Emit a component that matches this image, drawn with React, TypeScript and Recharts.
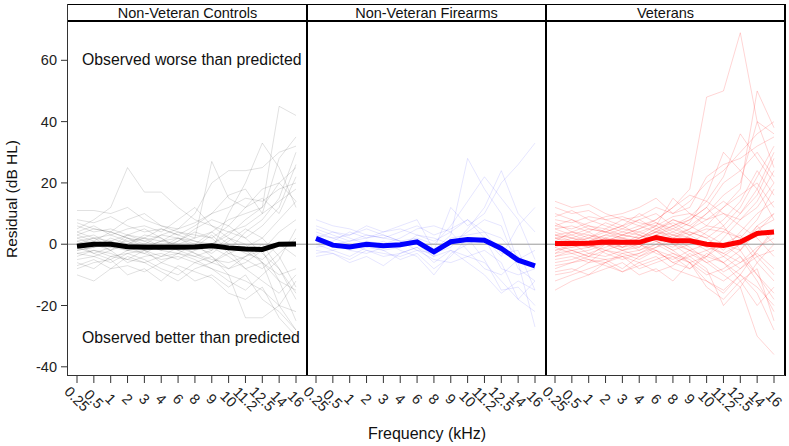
import { LineChart, Line, XAxis, YAxis, ReferenceLine } from "recharts";

const FREQS = ["0.25", "0.5", "1", "2", "3", "4", "6", "8", "9", "10", "11.2", "12.5", "14", "16"];
const Y_TICKS = [-40, -20, 0, 20, 40, 60];

// group means (thick lines)
const controlsMean = [-0.7, 0, 0, -0.8, -1, -1, -1, -0.9, -0.5, -1.2, -1.6, -1.7, 0, 0.1];
const firearmsMean = [1.9, -0.3, -0.9, 0, -0.5, -0.2, 0.8, -2.5, 0.8, 1.5, 1.3, -1.4, -5.2, -7.1];
const veteransMean = [0.2, 0.2, 0.3, 0.7, 0.6, 0.6, 2.2, 1.1, 1.1, 0, -0.4, 0.7, 3.5, 4];

// individual residual curves (a sample of the spaghetti)
const controlsLines = [
  [3, 5, 4, 2, 1, 3, 2, 0, 4, 8, 10, 12, 20, 25],
  [-4, -2, -3, -5, -6, -4, -3, -5, -8, -10, -12, -15, -20, -22],
  [11, 11, 10, 12, 8, 6, 5, 7, 10, 12, 15, 14, 18, 20],
  [5, 8, 12, 25, 17, 17, 12, 8, 6, 4, 6, 10, 14, 18],
  [-8, -6, -5, -10, -8, -12, -7, -9, -11, -16, -18, -14, -24, -30],
  [0, 2, 1, -1, 0, 3, 5, 10, 20, 24, 24, 25, 30, 32],
  [-2, -1, 0, 1, -2, -1, 0, 2, 27, 15, 12, 18, 20, 14],
  [6, 4, 5, 3, 2, 1, 4, 3, 2, -3, -5, -8, -3, 2],
  [-6, -8, -4, -3, -5, -8, -10, -6, -4, -10, -24, -24, -20, -12],
  [1, -1, 2, 0, 3, 2, -2, -4, -2, 10, 20, 33, 25, 12],
  [-3, -4, -2, -6, -4, -3, -5, -2, 0, 3, 8, 12, 45, 42],
  [4, 6, 3, 5, 6, 4, 8, 12, 6, 2, -2, -6, -12, -15],
  [-10, -12, -8, -7, -9, -6, -8, -12, -10, -14, -10, -18, -22, -28],
  [2, 3, 0, -2, -1, 1, 0, -3, -6, -2, 4, 8, 15, 30],
  [8, 7, 9, 6, 4, 5, 3, 1, -1, -4, -8, -6, -10, -8],
  [-1, 0, -2, 0, 2, -1, 1, 5, 8, 6, 2, -3, -8, -18],
  [0, -3, -5, -2, -3, -5, -4, -6, -8, -12, -15, -10, -5, 5],
  [3, 1, 4, 2, 0, -2, 1, 4, 2, 6, 12, 15, 10, 22],
  [-5, -4, -6, -3, -2, -4, -1, -3, -5, -6, -4, -2, -12, -25],
  [7, 5, 4, 8, 10, 6, 4, 2, 4, 0, -3, -5, 0, -4],
  [-2, -1, 1, -1, -3, 0, -2, -1, 3, -2, -8, -12, -16, -10],
  [1, 2, 3, 1, 2, 5, 3, 6, 10, 16, 18, 10, 28, 35],
  [-7, -5, -8, -4, -6, -9, -12, -8, -6, -3, -1, 2, -4, -14],
  [4, 2, -1, 3, 5, 2, -1, 0, -4, -8, -6, -2, 4, 8],
  [-3, -2, -4, -5, -2, -6, -3, 0, -2, 2, 0, -6, -20, -28],
  [0, 1, -2, 2, -1, 1, 2, -1, -3, 1, 5, 2, 8, 14],
  [-1, -3, -1, -2, 0, -2, -3, -4, -6, -8, -4, 0, -8, -16],
  [2, 0, 1, 3, 1, -1, 2, 1, 0, 4, 2, 6, 12, 26],
];

const firearmsLines = [
  [8, 6, 5, 3, 2, 4, 6, 3, 5, 8, 4, 2, -4, -8],
  [2, 0, -2, -3, -1, 0, 1, -2, 3, 28, 18, 10, -6, -27],
  [-4, -3, -5, -2, -4, -3, -1, -6, -2, -4, -6, -12, -18, -22],
  [5, 3, 1, 2, 4, 6, 8, -2, 12, 6, 10, 20, 26, 33],
  [0, -2, -4, -1, -2, -5, -3, -8, -4, 2, -5, -15, -14, -20],
  [3, 2, 3, 5, 3, 1, 2, 0, 6, 14, 22, 15, 8, -5],
  [-2, -3, -6, -4, -7, -3, -1, -4, -2, -6, -10, -16, -12, -15],
  [6, 4, 2, 0, -2, -1, 3, 2, 0, 4, 8, 6, -8, -12],
  [1, -1, -1, 1, 0, 2, 5, 6, 4, -2, -8, -10, -5, -2],
  [-1, 0, 1, 3, 2, 1, -2, -3, -1, 5, 12, 24, 10, 4],
  [4, 2, 0, -2, -3, -4, -2, -5, -6, -4, -2, -6, -18, -12],
  [0, 1, 4, 2, 3, 1, 0, -4, 2, 3, 4, -3, -2, -15],
  [-3, -2, 0, -1, 1, -2, -4, -10, -3, 0, 2, -8, -10, -8],
  [2, 4, 3, 6, 4, 5, 3, 1, 4, 8, 2, -4, 6, 12],
];

const veteransLines = [
  [0, 2, 1, 3, 2, 1, 4, 3, 2, -1, -3, 0, 5, 8],
  [-8, -6, -5, -7, -9, -6, -4, -8, -10, -12, -15, -10, -14, -20],
  [14, 12, 13, 10, 8, 9, 12, 10, 14, 20, 24, 30, 36, 40],
  [2, 0, -1, 1, 3, 5, 8, 12, 18, 48, 50, 69, 40, 25],
  [-3, -2, -4, 0, -2, -1, 3, 0, -4, -8, -20, -14, -30, -36],
  [5, 6, 4, 7, 5, 8, 10, 6, 8, 12, 20, 24, 30, 22],
  [-12, -10, -8, -6, -9, -7, -5, -3, -6, -10, -8, -4, -10, -16],
  [1, -1, 0, 2, 4, 3, 6, 15, 10, 6, 12, 18, 50, 38],
  [8, 7, 9, 8, 6, 10, 7, 4, 2, 0, -4, -8, -2, 5],
  [-5, -4, -6, -2, -3, -5, -2, -6, -8, -4, 2, 8, 12, 20],
  [3, 4, 2, 5, 8, 6, 4, 2, 5, 10, 14, 10, 18, 30],
  [-2, 0, -3, -1, 1, -2, 1, -1, 3, 5, 4, 2, -6, -12],
  [10, 8, 6, 4, 3, 2, 5, 8, 6, 3, 0, -2, 4, 10],
  [-15, -12, -10, -8, -6, -10, -8, -12, -6, -14, -18, -12, -8, -25],
  [0, 1, 3, 2, -1, 0, 2, 4, 7, 16, 30, 24, 18, 8],
  [4, 2, 0, -2, -4, -3, 0, 3, 1, -2, -6, -10, -16, -28],
  [6, 5, 7, 9, 10, 12, 15, 10, 12, 22, 26, 28, 32, 35],
  [-6, -5, -3, -4, -2, 0, -3, -5, -2, 0, -3, -6, -1, 2],
  [2, 3, 5, 4, 6, 3, 1, -2, 0, 4, 8, 14, 24, 16],
  [-1, -3, -2, 0, -1, 2, 5, 2, -1, -5, -9, -6, -3, -8],
  [12, 10, 11, 8, 9, 7, 6, 9, 10, 8, 12, 16, 20, 12],
  [-4, -2, -1, 1, 0, 3, 1, -2, -6, -12, -16, -10, -2, 4],
  [3, 1, 2, 1, 3, 5, 7, 5, 3, 6, 5, 2, 8, 18],
  [-9, -8, -10, -6, -4, -8, -6, -4, -8, -3, -6, -12, -20, -14],
  [1, 4, 6, 5, 3, 2, 4, 6, 9, 14, 22, 36, 28, 20],
  [-2, -1, 0, -3, -5, -3, -1, 2, 4, 2, -2, 4, 10, 14],
  [7, 4, 3, 1, 2, 0, -2, -4, -6, -4, 0, 3, -4, -10],
  [0, -2, -4, -2, 0, 2, 4, 8, 6, 10, 16, 20, 40, 36],
  [-3, 0, 2, 4, 2, 4, 6, 3, 5, 8, 10, 6, 2, -4],
  [5, 3, 1, 3, 5, 4, 2, 0, -2, -6, -10, -14, -6, 0],
  [-7, -6, -4, -5, -8, -4, -2, -6, -4, -2, 0, -4, -12, -22],
  [9, 11, 8, 6, 4, 6, 8, 12, 16, 14, 10, 8, 14, 24],
  [2, 1, -1, 0, -2, -4, -1, 1, -2, -4, -6, -2, 6, 0],
  [-1, 1, 0, 2, 1, -1, 3, 6, 3, 0, 4, 10, 16, 28],
  [-4, -3, -5, -6, -3, -2, 0, -3, -5, -9, -12, -8, -4, -2],
  [6, 8, 5, 4, 6, 8, 5, 7, 4, 2, 6, 12, 22, 32],
  [-10, -9, -6, -5, -4, -6, -9, -7, -3, -6, -4, 0, 6, 10],
  [3, 2, 4, 1, -1, 1, 3, 5, 8, 12, 6, -2, -10, -18],
];

const FONT = "'Liberation Sans', Arial, sans-serif";
const PANEL_W = 239;
const PLOT_TOP = 22;
const PLOT_H = 354;
const AXIS_H = 70;

function buildRows(lines: number[][], mean: number[]) {
  return FREQS.map((f, i) => {
    const row: Record<string, number | string> = { freq: f, mean: mean[i] };
    lines.forEach((l, j) => (row["s" + j] = l[i]));
    return row;
  });
}

function FreqTick(props: any) {
  const { x, y, payload } = props;
  return (
    <text
      transform={`translate(${x},${y + 14}) rotate(45)`}
      textAnchor="middle"
      dy="0.35em"
      fontSize={14.5}
      fill="#222"
      fontFamily={FONT}
    >
      {payload.value}
    </text>
  );
}

function Panel({ lines, mean, thin, thick, left, showY }: {
  lines: number[][]; mean: number[]; thin: string; thick: string; left: number; showY: boolean;
}) {
  const data = buildRows(lines, mean);
  const yw = showY ? 68 : 0;
  const pad = showY ? 0 : 12;
  return (
    <div style={{ position: "absolute", left: left - yw - pad, top: PLOT_TOP }}>
      <LineChart width={PANEL_W + yw + pad} height={PLOT_H + AXIS_H} data={data}
        margin={{ top: 0, right: 0, bottom: 0, left: pad }}>
        <XAxis dataKey="freq" interval={0} height={AXIS_H} tickSize={7} axisLine={false}
          tickLine={{ stroke: "#333" }} padding={{ left: 9, right: 11 }} tick={<FreqTick />} />
        <YAxis domain={[-43, 72.5]} ticks={Y_TICKS} allowDataOverflow hide={!showY} width={yw}
          axisLine={false} tickSize={7} tickMargin={4} tickLine={{ stroke: "#333" }}
          tick={{ fontSize: 14.5, fill: "#222", fontFamily: FONT }} />
        {lines.map((_, j) => (
          <Line key={j} dataKey={"s" + j} stroke={thin} strokeWidth={1} dot={false}
            activeDot={false} isAnimationActive={false} />
        ))}
        <ReferenceLine y={0} stroke="#9a9a9a" strokeWidth={1} />
        <Line dataKey="mean" stroke={thick} strokeWidth={5} dot={false}
          activeDot={false} isAnimationActive={false} />
      </LineChart>
    </div>
  );
}

const STRIPS = ["Non-Veteran Controls", "Non-Veteran Firearms", "Veterans"];

export default function App() {
  const x0 = 68;
  return (
    <div style={{ position: "absolute", left: 0, top: 0, width: 789, height: 446, background: "#fff", fontFamily: FONT, color: "#111" }}>
      <Panel lines={controlsLines} mean={controlsMean} thin="rgba(0,0,0,0.12)" thick="#000" left={x0} showY />
      <Panel lines={firearmsLines} mean={firearmsMean} thin="rgba(0,0,255,0.1)" thick="#0000ff" left={x0 + PANEL_W} showY={false} />
      <Panel lines={veteransLines} mean={veteransMean} thin="rgba(255,0,0,0.17)" thick="#ff0000" left={x0 + PANEL_W * 2} showY={false} />

      {STRIPS.map((s, i) => (
        <div key={s} style={{
          position: "absolute", left: x0 + PANEL_W * i, top: 4, width: PANEL_W, height: 18,
          boxSizing: "border-box", borderTop: "1.5px solid #000", borderBottom: "2px solid #000",
          textAlign: "center", fontSize: 14.5, lineHeight: "16px",
        }}>{s}</div>
      ))}
      {[0, 1, 2, 3].map((i) => (
        <div key={i} style={{
          position: "absolute", left: x0 + PANEL_W * i - 1, top: 4, width: 0, height: 372,
          borderLeft: i === 0 ? "1.5px solid #333" : "2px solid #000",
        }} />
      ))}
      <div style={{ position: "absolute", left: x0, top: 375, width: PANEL_W * 3, height: 0, borderTop: "1.5px solid #333" }} />

      <div style={{ position: "absolute", left: 82, top: 51, fontSize: 15.8, whiteSpace: "nowrap" }}>Observed worse than predicted</div>
      <div style={{ position: "absolute", left: 82, top: 329, fontSize: 15.8, whiteSpace: "nowrap" }}>Observed better than predicted</div>

      <div style={{ position: "absolute", left: 427, top: 425, transform: "translateX(-50%)", fontSize: 16, whiteSpace: "nowrap" }}>Frequency (kHz)</div>
      <div style={{ position: "absolute", left: 12, top: 199, transform: "translate(-50%,-50%) rotate(-90deg)", fontSize: 15.5, whiteSpace: "nowrap" }}>Residual (dB HL)</div>
    </div>
  );
}
